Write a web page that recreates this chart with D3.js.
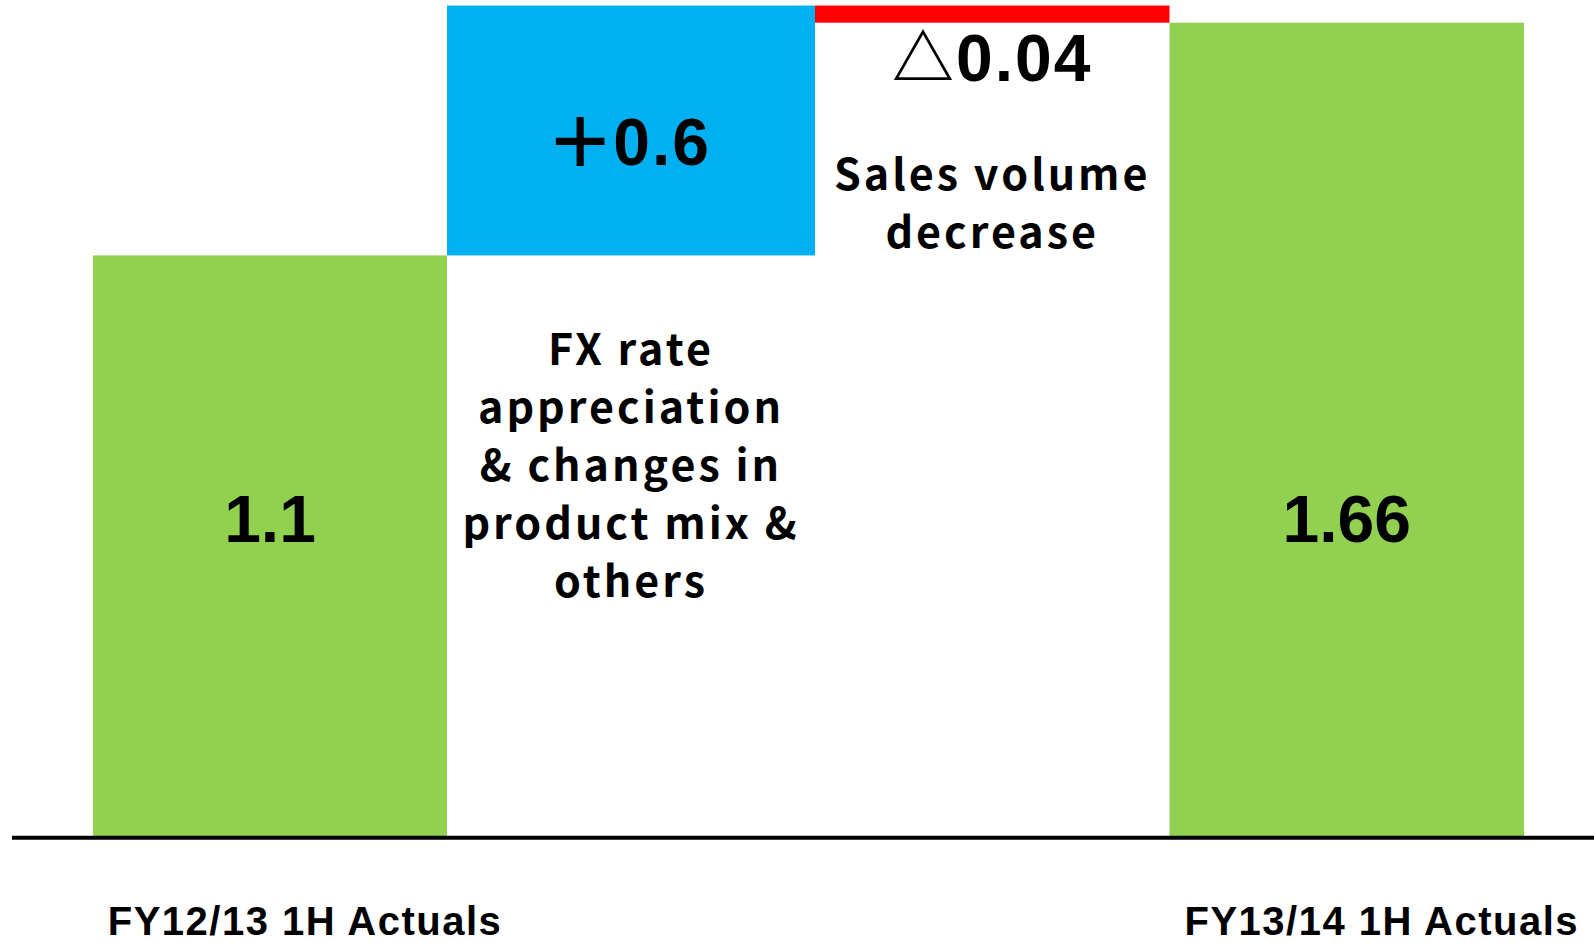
<!DOCTYPE html>
<head>
<meta charset="utf-8">
<script src="https://d3js.org/d3.v7.min.js"></script>
<style>
  body { margin: 0; background: #fff; }
  svg { display: block; }
</style>
</head>
<body>
<div id="vis"></div>
<script>
// bar extents (drawn heights), labels as printed
const categories = ['FY12/13 1H Actuals', 'FX', 'Volume', 'FY13/14 1H Actuals']
const values = [1.185, 0.51, -0.035, 1.66]
const kinds = ['total', 'delta', 'delta', 'total']
const valueLabels = ['1.1', '+0.6', '△0.04', '1.66']
const notes = [
  [],
  ['FX rate', 'appreciation', '& changes in', 'product mix &', 'others'],
  ['Sales volume', 'decrease'],
  []
]
const axisLabels = ['FY12/13 1H Actuals', '', '', 'FY13/14 1H Actuals']

const width = 1594
const height = 943

const colours = { total: '#92d050', up: '#00b0f0', down: '#ff0000' }

// running totals for the waterfall
let run = 0
const bars = values.map((v, i) => {
  let y0, y1
  if (kinds[i] === 'total') { y0 = 0; y1 = v; run = v } else { y0 = run; y1 = run + v; run = y1 }
  return { i, cat: categories[i], v, y0, y1, kind: kinds[i], label: valueLabels[i], note: notes[i], axis: axisLabels[i] }
})

// bar edges: the slide drew the first step a little wider than the others
const xEdge = d3.scaleLinear()
  .domain([0, 1, 2, 3, 4])
  .range([93, 447, 815, 1169.5, 1524])
const xl = d => xEdge(d.i)
const xw = d => xEdge(d.i + 1) - xEdge(d.i)
const xc = d => (xEdge(d.i) + xEdge(d.i + 1)) / 2

const y = d3.scaleLinear()
  .domain([0, 1.66])
  .range([836, 22.7])

const svg = d3.select('#vis')
  .append('svg')
  .attr('width', width)
  .attr('height', height)

svg.selectAll('.bar')
  .data(bars)
  .enter()
  .append('rect')
  .attr('class', 'bar')
  .attr('x', xl)
  .attr('width', xw)
  .attr('y', d => y(Math.max(d.y0, d.y1)))
  .attr('height', d => Math.abs(y(d.y0) - y(d.y1)))
  .attr('fill', d => d.kind === 'total' ? colours.total : (d.v > 0 ? colours.up : colours.down))

// base line
svg.append('line')
  .attr('x1', 12)
  .attr('x2', width)
  .attr('y1', y(0) + 1.7)
  .attr('y2', y(0) + 1.7)
  .attr('stroke', '#000')
  .attr('stroke-width', 4)

const numFont = '"Liberation Sans", Arial, sans-serif'
const noteFont = '"Noto Sans CJK JP", "Noto Sans", sans-serif'

// value labels
const lab = svg.selectAll('.val')
  .data(bars)
  .enter()
  .append('text')
  .attr('class', 'val')
  .attr('x', xc)
  .attr('y', d => {
    if (d.kind === 'total') return 542
    if (d.v > 0) return 165
    return 81
  })
  .attr('text-anchor', 'middle')
  .style('font-family', numFont)
  .style('font-weight', 'bold')
  .style('font-size', '66px')
  .style('letter-spacing', d => d.kind === 'total' ? '0px' : '2px')
  .attr('fill', '#000')

lab.each(function (d) {
  const t = d3.select(this)
  const sign = d.label[0]
  if (sign === '△') {
    t.append('tspan').style('font-family', noteFont).style('font-size', '62px').text('△')
    t.append('tspan').text(d.label.slice(1))
  } else if (sign === '+') {
    // the slide uses a wide, thin plus sign
    t.append('tspan').attr('dy', 10).style('font-weight', 'normal').style('font-size', '100px').style('letter-spacing', '4px').text('+')
    t.append('tspan').attr('dy', -10).text(d.label.slice(1))
  } else {
    t.text(d.label)
  }
})

// explanatory notes
svg.selectAll('.note')
  .data(bars.filter(d => d.note.length))
  .enter()
  .append('text')
  .attr('class', 'note')
  .attr('text-anchor', 'middle')
  .style('font-family', noteFont)
  .style('font-weight', 'bold')
  .style('font-size', '43px')
  .style('letter-spacing', '3px')
  .attr('fill', '#000')
  .each(function (d) {
    const startY = d.v > 0 ? 365 : 190
    d3.select(this).selectAll('tspan')
      .data(d.note)
      .enter()
      .append('tspan')
      .attr('x', xc(d))
      .attr('y', (s, i) => startY + i * 58)
      .text(s => s)
  })

// category labels under the axis
svg.selectAll('.cat')
  .data(bars.filter(d => d.axis))
  .enter()
  .append('text')
  .attr('class', 'cat')
  .attr('x', d => xc(d) + 35)
  .attr('y', 935)
  .attr('text-anchor', 'middle')
  .style('font-family', numFont)
  .style('font-weight', 'bold')
  .style('font-size', '40px')
  .style('letter-spacing', '1.5px')
  .attr('fill', '#000')
  .text(d => d.axis)
</script>
</body>
